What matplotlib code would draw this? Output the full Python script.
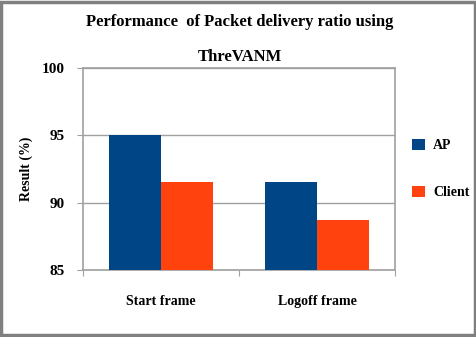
import numpy as np
import matplotlib.pyplot as plt
from matplotlib.patches import Rectangle

categories = ['Start frame', 'Logoff frame']
ap = [95.0, 91.5]
client = [91.5, 88.7]
yticks = [85, 90, 95, 100]

plt.rcParams['font.family'] = ['Liberation Serif', 'DejaVu Serif']
plt.rcParams['font.weight'] = 'bold'

fig = plt.figure(figsize=(4.76, 3.37), dpi=100)
ax = fig.add_axes([83 / 476, 1 - 270 / 337, (395 - 83) / 476, (270 - 68) / 337])

x = np.arange(len(categories))
w = 1 / 3
ax.bar(x - w / 2, [v - 85 for v in ap], w, bottom=85, color='#004586', label='AP', zorder=3)
ax.bar(x + w / 2, [v - 85 for v in client], w, bottom=85, color='#ff420e', label='Client', zorder=3)

ax.set_xlim(-0.5, 1.5)
ax.set_ylim(85, 100)
ax.set_yticks(yticks)
ax.set_yticklabels([str(t) for t in yticks], fontsize=11, fontweight='bold')
ax.set_xticks([-0.5, 0.5, 1.5])
ax.set_xticklabels([])
ax.set_xticks(x, minor=True)
ax.set_xticklabels(categories, minor=True, fontsize=10, fontweight='bold')
ax.tick_params(axis='x', which='minor', length=0, pad=18)
ax.tick_params(axis='x', which='major', length=4.5, color='#a0a0a0', direction='out')
ax.tick_params(axis='y', length=4.5, color='#a0a0a0', pad=9)
ax.grid(axis='y', color='#a0a0a0', linewidth=1, zorder=0)
for s in ax.spines.values():
    s.set_color('#a0a0a0')
    s.set_linewidth(1.2)

ax.set_ylabel('Result (%)', fontsize=10, fontweight='bold', labelpad=6)

fig.text(0.5 + 0.004, 1 - 22 / 337, 'Performance  of Packet delivery ratio using',
         ha='center', va='center', fontsize=12, fontweight='bold')
fig.text(0.5 + 0.004, 1 - 57 / 337, 'ThreVANM', ha='center', va='center',
         fontsize=12, fontweight='bold')

ax.legend(loc='center left', bbox_to_anchor=(1.015, 0.5), frameon=False,
          handlelength=0.9, handleheight=0.9, handletextpad=0.6, labelspacing=2.4,
          prop={'weight': 'bold', 'size': 10})

fig.patches.append(Rectangle((0.003, 0.006), 0.994, 0.988, transform=fig.transFigure,
                             fill=False, edgecolor='#808080', linewidth=2.5))

fig.savefig('out.png', dpi=100)
